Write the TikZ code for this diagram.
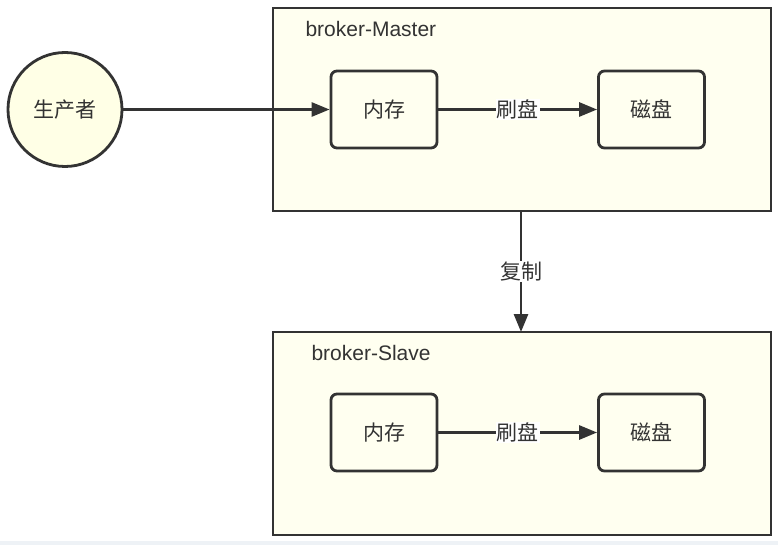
\documentclass[tikz,border=0pt]{standalone}
\usepackage{fontspec}
\setmainfont{Liberation Sans}
\newfontfamily\cjk{Noto Sans CJK SC}
\usetikzlibrary{arrows.meta}
\definecolor{boxfill}{HTML}{FFFFF0}
\definecolor{circfill}{HTML}{FFFFE6}
\definecolor{linec}{HTML}{333333}
\definecolor{txtc}{HTML}{333333}
\definecolor{stripc}{HTML}{EEF2F6}
\tikzset{
  container/.style={draw=linec, line width=2.8pt, fill=boxfill},
  inner/.style={draw=linec, line width=2.8pt, fill=boxfill, rounded corners=6pt, minimum width=106pt, minimum height=77pt, font=\cjk\fontsize{21}{24}\selectfont, text=txtc},
  conn/.style={draw=linec, line width=2.8pt, -{Triangle[length=18pt,width=14pt]}},
  lbl/.style={fill=white, inner sep=1pt, font=\cjk\fontsize{21}{24}\selectfont, text=txtc},
  title/.style={anchor=west, font=\fontsize{21}{24}\selectfont, text=txtc}
}
\begin{document}
\begin{tikzpicture}[x=1pt,y=-1pt]
\useasboundingbox (0,0) rectangle (778,545);
\fill[white] (0,0) rectangle (778,545);
\fill[stripc] (0,541) rectangle (778,545);
% containers
\draw[container] (273,8) rectangle (771,211);
\coordinate (mtop) at (521,211);
\draw[container] (273,332) rectangle (771,535);
\coordinate (stop) at (521,332);
\node[title] (mt) at (302,29) {broker-Master};
\node[title] (st) at (308,353) {broker-Slave};
% producer
\node[circle, draw=linec, line width=2.8pt, fill=circfill, minimum size=114pt, font=\cjk\fontsize{21}{24}\selectfont, text=txtc] (p) at (65,109.5) {生产者};
% master nodes
\node[inner] (m1) at (384,109.5) {内存};
\node[inner] (m2) at (651.5,109.5) {磁盘};
% slave nodes
\node[inner] (s1) at (384,432.5) {内存};
\node[inner] (s2) at (651.5,432.5) {磁盘};
% connectors
\draw[conn] (p) -- (m1);
\draw[conn] (m1) -- node[lbl] {刷盘} (m2);
\draw[conn] (s1) -- node[lbl] {刷盘} (s2);
\draw[conn] (mtop) -- node[lbl, pos=0.5] {复制} (stop);
\end{tikzpicture}
\end{document}
